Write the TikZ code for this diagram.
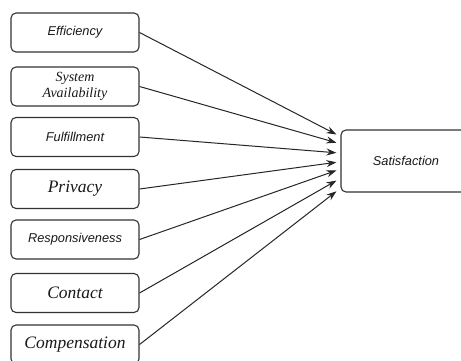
\documentclass[tikz,border=0pt]{standalone}
\usepackage{fontspec}
\setmainfont{Liberation Serif}
\setsansfont{Liberation Sans}
\usetikzlibrary{calc,arrows.meta}
\tikzset{%
  factor/.style = { draw=black!80, line width=1.1pt, rounded corners=5pt, minimum width=128pt, minimum height=39pt, inner sep=1pt, align=center, fill=white, text=black!90 },
  sanslabel/.style = { font=\sffamily\itshape\fontsize{12.8}{15}\selectfont },
  seriflabel/.style = { font=\itshape\fontsize{17.5}{19}\selectfont },
  smallserif/.style = { font=\itshape\fontsize{14}{16}\selectfont },
  link/.style = { draw=black!85, line width=1pt, ->, >={Stealth[length=10pt,width=7pt]} }
}

\begin{document}
\begin{tikzpicture}[x=1pt,y=-1pt]

  \useasboundingbox (0,0) rectangle (461,361);

  % Service quality dimensions
  \node[factor,sanslabel]  (eff) at (75,32.5)  {Efficiency};
  \node[factor,smallserif] (sys) at (75,86.5)  {System\\Availability};
  \node[factor,sanslabel]  (ful) at (75,137)   {Fulfillment};
  \node[factor,seriflabel] (pri) at (75,189)   {Privacy};
  \node[factor,sanslabel]  (res) at (75,239.5) {Responsiveness};
  \node[factor,seriflabel] (con) at (75,293)   {Contact};
  \node[factor,seriflabel] (com) at (75,344.5) {Compensation};

  % Outcome
  \node[factor,sanslabel,minimum width=130pt,minimum height=62pt] (sat) at (406,161) {Satisfaction};

  % Paths into satisfaction
  \foreach \src/\pos [count=\i] in {eff/0.08,sys/0.21,ful/0.37,pri/0.52,res/0.65,con/0.81,com/0.98} {
    \coordinate (in\i) at ($(sat.north west)!\pos!(sat.south west)+(-4,0)$);
    \draw[link] (\src.east) -- (in\i);
  }

\end{tikzpicture}
\end{document}
